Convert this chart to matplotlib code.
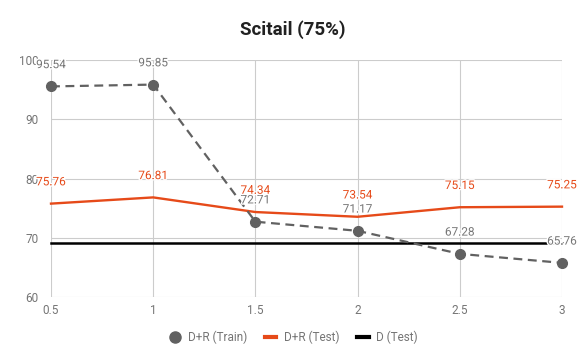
import matplotlib
matplotlib.use("Agg")
import matplotlib.pyplot as plt
import matplotlib.patheffects as pe
from matplotlib.lines import Line2D

plt.rcParams['font.family'] = ['Roboto', 'DejaVu Sans']

x = [0.5, 1, 1.5, 2, 2.5, 3]
train = [95.54, 95.85, 72.71, 71.17, 67.28, 65.76]
test = [75.76, 76.81, 74.34, 73.54, 75.15, 75.25]
d_test = [69.1] * len(x)
xticks = [0.5, 1, 1.5, 2, 2.5, 3]
yticks = [60, 70, 80, 90, 100]

gray = '#616161'
red = '#e64a19'

fig = plt.figure(figsize=(5.86, 3.63), dpi=100)
ax = fig.add_axes([51/586, 66/363, 511/586, 237/363])

ax.plot(x, d_test, color='black', lw=1.8, zorder=2)
ax.plot(x, test, color=red, lw=1.7, zorder=3)
ax.plot(x, train, color=gray, lw=1.6, ls=(0, (4, 2.5)), marker='o', ms=7, zorder=4)

stroke = [pe.withStroke(linewidth=2, foreground='white')]
for xi, v in zip(x, train):
    ax.annotate(f"{v:.2f}", (xi, v), xytext=(0, 11), textcoords='offset points',
                ha='center', va='bottom', fontsize=8.5, color='#757575', path_effects=stroke, zorder=5)
for xi, v in zip(x, test):
    ax.annotate(f"{v:.2f}", (xi, v), xytext=(0, 11), textcoords='offset points',
                ha='center', va='bottom', fontsize=8.5, color=red, path_effects=stroke, zorder=5)

ax.set_xlim(0.5, 3)
ax.set_ylim(60, 100)
ax.set_xticks(xticks)
ax.set_xticklabels([f"{t:g}" for t in xticks])
ax.set_yticks(yticks)
ax.grid(True, color='#cccccc', lw=0.8)
ax.set_axisbelow(True)
for s in ax.spines.values():
    s.set_visible(False)
ax.tick_params(axis='y', length=0, labelsize=8.5, colors='#757575', pad=9)
ax.tick_params(axis='x', length=0, labelsize=8.5, colors='#757575', pad=5)
for l in ax.lines:
    l.set_clip_on(False)

fig.text(0.5, 1 - 30/363, "Scitail (75%)", ha='center', va='center', fontsize=13.5, fontweight='bold', color='#212121')

handles = [
    Line2D([], [], color=gray, marker='o', ls='none', ms=8),
    Line2D([], [], color=red, lw=3),
    Line2D([], [], color='black', lw=3),
]
fig.legend(handles, ['D+R (Train)', 'D+R (Test)', 'D (Test)'], loc='center',
           bbox_to_anchor=(0.5, 1 - 337/363), ncol=3, frameon=False, fontsize=8.5,
           handlelength=1.0, handletextpad=0.6, columnspacing=1.5, labelcolor='#757575')

fig.savefig('out.png', dpi=100)
